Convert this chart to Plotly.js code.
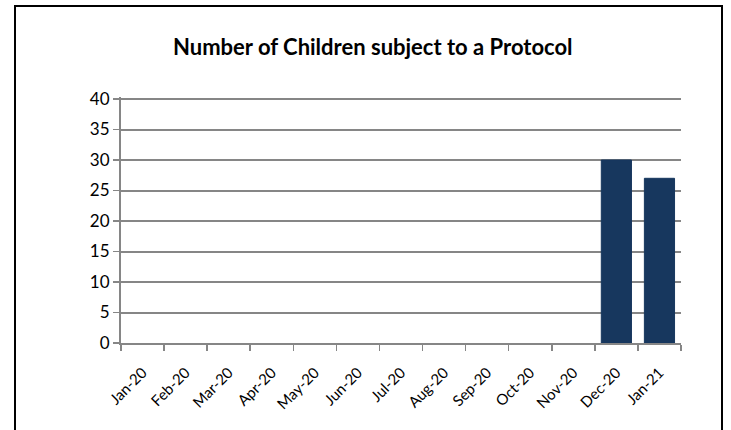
<!DOCTYPE html>
<html>
<head>
<meta charset="utf-8">
<script src="https://cdn.plot.ly/plotly-3.0.1.min.js"></script>
<style>html,body{margin:0;padding:0;background:#fff;}#chart{width:731px;height:430px;}</style>
</head>
<body>
<div id="chart"></div>
<script>
var months = ["Jan-20","Feb-20","Mar-20","Apr-20","May-20","Jun-20","Jul-20","Aug-20","Sep-20","Oct-20","Nov-20","Dec-20","Jan-21"];
var children = [null,null,null,null,null,null,null,null,null,null,null,30,27];
var chartTitle = "Number of Children subject to a Protocol";

var trace = {
  type: "bar",
  x: months,
  y: children,
  marker: {color: "#17375E", line: {color: "#17375E", width: 1}},
  hoverinfo: "x+y"
};

var layout = {
  width: 731, height: 430,
  margin: {l: 121, r: 50, t: 97, b: 87},
  paper_bgcolor: "#ffffff",
  plot_bgcolor: "#ffffff",
  showlegend: false,
  bargap: 0.3,
  font: {family: "Lato, 'Open Sans', sans-serif", color: "#000"},
  title: {
    text: "<b>" + chartTitle + "</b>",
    font: {family: "Lato, 'Open Sans', sans-serif", size: 22, color: "#000"},
    xref: "container", x: 0.51, xanchor: "center",
    yref: "container", y: 1 - 47/430, yanchor: "middle"
  },
  xaxis: {
    type: "category",
    range: [-0.5, 12.5],
    tickangle: -45,
    tickson: "boundaries",
    ticks: "outside", ticklen: 6, tickcolor: "#868686", tickwidth: 1.5,
    ticklabelstandoff: 13,
    showline: true, linecolor: "#868686", linewidth: 2,
    showgrid: false,
    tickfont: {size: 15, color: "#000"},
    fixedrange: true
  },
  yaxis: {
    range: [0, 40.33],
    tickvals: [0,5,10,15,20,25,30,35,40],
    ticks: "outside", ticklen: 6, tickcolor: "#868686", tickwidth: 1.5,
    showline: true, linecolor: "#868686", linewidth: 2,
    showgrid: true, gridcolor: "#868686", gridwidth: 2,
    zeroline: false,
    tickfont: {size: 17, color: "#000"},
    fixedrange: true
  },
  shapes: [{
    type: "rect", xref: "paper", yref: "paper",
    x0: (15 - 121) / 560, x1: (722 - 121) / 560,
    y0: -0.6, y1: (343 - 6) / 246,
    line: {color: "#000", width: 2}, fillcolor: "rgba(0,0,0,0)", layer: "below"
  }]
};

Plotly.newPlot("chart", [trace], layout, {displayModeBar: false, staticPlot: true});
</script>
</body>
</html>
